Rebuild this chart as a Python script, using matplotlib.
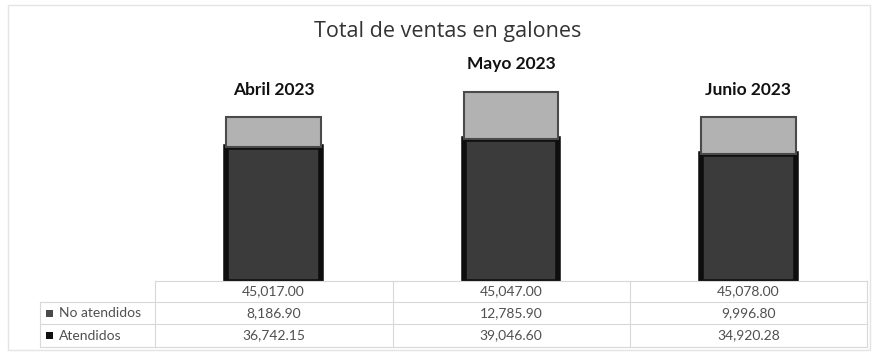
import matplotlib.pyplot as plt
from matplotlib.lines import Line2D
from matplotlib.patches import Rectangle

# Ventas por mes (galones)
meses = ['Abril 2023', 'Mayo 2023', 'Junio 2023']
totales = [45017.00, 45047.00, 45078.00]
no_atendidos = [8186.90, 12785.90, 9996.80]
atendidos = [36742.15, 39046.60, 34920.28]

plt.rcParams['font.family'] = ['Lato', 'DejaVu Sans']

W, H = 876, 354
fig = plt.figure(figsize=(W / 100, H / 100), dpi=100)


def fx(px):
    return px / W


def fy(py):
    return 1 - py / H


ax = fig.add_axes([fx(155), fy(282), fx(867) - fx(155), fy(60) - fy(282)])
ax.set_xlim(-0.5, 2.5)
ax.set_ylim(0, 60500)
ax.axis('off')

x = range(len(meses))
ax.bar(x, atendidos, width=0.4, color='#3b3b3b', edgecolor='#0e0e0e', linewidth=4)
ax.bar(x, no_atendidos, width=0.4, bottom=atendidos, color='#b2b2b2',
       edgecolor='#4a4a4a', linewidth=1.5)

# etiquetas de mes sobre cada barra
for i, mes in enumerate(meses):
    top = atendidos[i] + no_atendidos[i]
    ax.annotate(mes, (i, top), xytext=(0, 14), textcoords='offset points',
                ha='center', va='bottom', fontsize=12.5, fontweight='bold', color='#111111')

fig.text(0.511, fy(31), 'Total de ventas en galones', ha='center', va='center',
         fontsize=15.5, color='#333333', family=['Open Sans', 'DejaVu Sans'])

# tabla de datos
grid = '#d8d8d8'
rows_y = [281, 302, 324, 347]
fig.add_artist(Line2D([fx(155), fx(867)], [fy(281), fy(281)], color=grid, lw=0.8))
for py in rows_y[1:]:
    fig.add_artist(Line2D([fx(40), fx(867)], [fy(py), fy(py)], color=grid, lw=0.8))
for px in [155, 393, 630, 867]:
    fig.add_artist(Line2D([fx(px), fx(px)], [fy(281), fy(347)], color=grid, lw=0.8))
fig.add_artist(Line2D([fx(40), fx(40)], [fy(302), fy(347)], color=grid, lw=0.8))

tabla = [totales, no_atendidos, atendidos]
trans = ax.get_xaxis_transform()
for r, valores in enumerate(tabla):
    cy = (rows_y[r] + rows_y[r + 1]) / 2
    for i, v in enumerate(valores):
        ax.text(i, (fy(cy) - fy(282)) / (fy(60) - fy(282)), f'{v:,.2f}', transform=trans,
                ha='center', va='center', fontsize=10, color='#505050', clip_on=False)

leyenda = [('No atendidos', '#4a4a4a', 1), ('Atendidos', '#111111', 2)]
for nombre, color, r in leyenda:
    cy = (rows_y[r] + rows_y[r + 1]) / 2
    fig.add_artist(Rectangle((fx(46), fy(cy + 3.5)), fx(7), 7 / H, facecolor=color,
                             edgecolor='none'))
    fig.text(fx(59), fy(cy), nombre, ha='left', va='center', fontsize=10, color='#505050')

# borde del grafico
fig.add_artist(Rectangle((fx(8), fy(350)), fx(862), 345 / H, fill=False,
                         edgecolor='#e4e4e4', lw=1))

fig.savefig('out.png', dpi=100)
